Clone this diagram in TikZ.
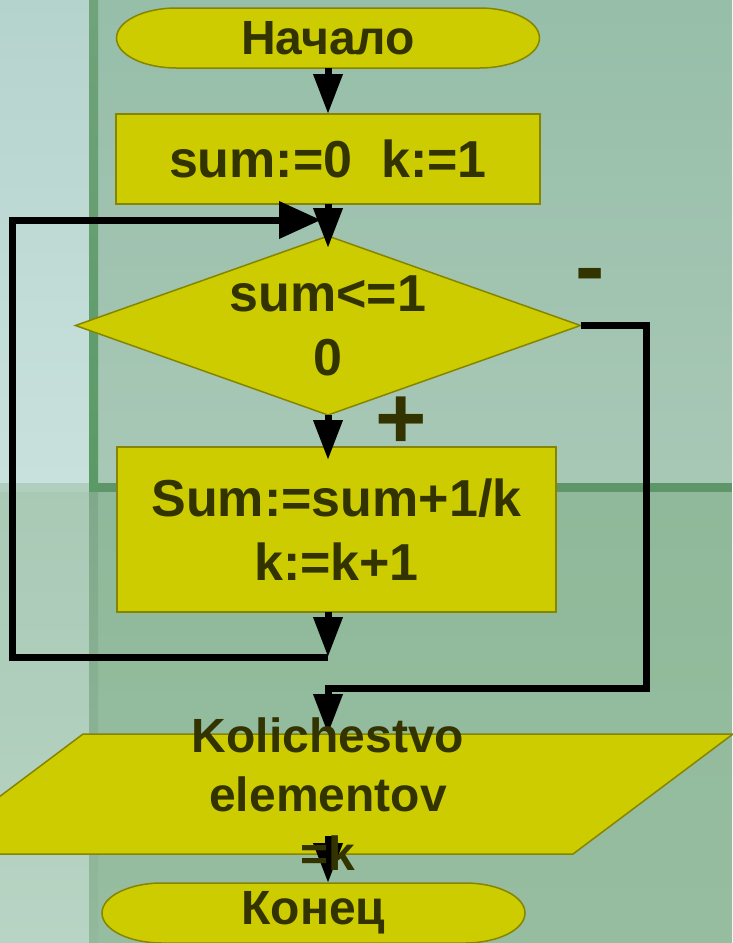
\documentclass[tikz,border=0pt]{standalone}
\usepackage{fontspec}
\setmainfont{Liberation Sans}
\usepackage{tikz}
\usetikzlibrary{positioning}
\usetikzlibrary{shapes.geometric}
\usetikzlibrary{arrows.meta}
\usetikzlibrary{backgrounds}

\definecolor{blockfill}{HTML}{CCCC00}
\definecolor{blockline}{HTML}{858500}
\definecolor{blocktext}{HTML}{333300}
% slide colours
\definecolor{lefttop}{RGB}{181,211,205}
\definecolor{leftmid}{RGB}{201,225,221}
\definecolor{leftlow}{RGB}{169,201,181}
\definecolor{leftbot}{RGB}{184,212,196}
\definecolor{leftband}{RGB}{176,207,191}
\definecolor{paneltop}{RGB}{150,190,169}
\definecolor{panelmid}{RGB}{168,200,182}
\definecolor{panellow}{RGB}{143,185,154}
\definecolor{panelbot}{RGB}{151,189,160}
\definecolor{stripetop}{RGB}{112,163,122}
\definecolor{stripemid}{RGB}{90,154,102}
\definecolor{stripelow}{RGB}{127,169,138}
\definecolor{stripebot}{RGB}{147,185,156}
\definecolor{bar}{RGB}{95,150,105}

\tikzset{
    block/.style={draw=blockline, fill=blockfill, line width=1.5pt, text=blocktext, inner sep=0pt, outer sep=0pt,
        align=center, font=\fontsize{52pt}{64pt}\selectfont\bfseries},
    process/.style={block, rectangle},
    decision/.style={block, diamond, aspect=2.8},
    terminal/.style={text=blocktext, inner sep=0pt, outer sep=0pt, minimum width=423pt, minimum height=60pt,
        font=\fontsize{48pt}{58pt}\selectfont\bfseries},
    datatext/.style={text=blocktext, inner sep=0pt, align=center, font=\fontsize{48pt}{59pt}\selectfont\bfseries},
    outline/.style={draw=blockline, fill=blockfill, line width=1.5pt},
    flow/.style={line width=7pt, -{Triangle[length=40pt,width=28pt]}},
    sign/.style={text=blocktext, inner sep=0pt, anchor=base, font=\fontsize{88pt}{88pt}\selectfont\bfseries}
}

\begin{document}
\begin{tikzpicture}[x=1pt, y=-1pt]
    \useasboundingbox (0,0) rectangle (732,943);

    % slide background
    \begin{scope}[on background layer]
        \fill[top color=lefttop, bottom color=leftmid] (0,0) rectangle (89,483);
        \fill[top color=leftlow, bottom color=leftbot] (0,483) rectangle (89,943);
        \fill[leftband] (0,483) rectangle (89,492);
        \fill[top color=paneltop, bottom color=panelmid] (98,0) rectangle (732,483);
        \fill[top color=panellow, bottom color=panelbot] (98,492) rectangle (732,943);
        \fill[top color=stripetop, bottom color=stripemid] (89,0) rectangle (98,492);
        \fill[top color=stripelow, bottom color=stripebot] (89,492) rectangle (98,943);
        \fill[bar] (98,483) rectangle (732,492);
    \end{scope}

    \node[terminal] (start) at (328,38) {Начало};
    \node[process, minimum width=424pt, minimum height=90pt, below=46pt of start] (init) {sum:=0\ \ k:=1};
    \node[decision, minimum width=505pt, minimum height=179pt, below=32pt of init] (cond) {sum<=1\\0};
    \node[process, minimum width=439pt, minimum height=165pt] (body) at (336.5,529.5) {Sum:=sum+1/k\\k:=k+1};
    \node[inner sep=0pt, outer sep=0pt, minimum width=650pt, minimum height=120pt] (out) at (328,794) {};
    \node[terminal] (stop) at (313.5,913) {Конец};

    % terminals and output block drawn under the texts
    \begin{scope}[on background layer]
        \foreach \t in {start,stop}
            \filldraw[outline] ([xshift=60pt]\t.north west) -- ([xshift=-60pt]\t.north east)
                arc[start angle=90, end angle=-90, x radius=60pt, y radius=30pt]
                -- ([xshift=60pt]\t.south west)
                arc[start angle=270, end angle=90, x radius=60pt, y radius=30pt] -- cycle;
        \filldraw[outline] ([xshift=80pt]out.north west) -- ([xshift=80pt]out.north east)
            -- ([xshift=-80pt]out.south east) -- ([xshift=-80pt]out.south west) -- cycle;
    \end{scope}

    \coordinate (join) at (328,657);
    \coordinate (loopbl) at (12,657);
    \coordinate (loopin) at (321,220);
    \coordinate (exitc) at (646,688);

    \draw[flow] (start) -- (init);
    \draw[flow] (init) -- ([yshift=-12pt]cond.north);
    \draw[flow] (cond.south) -- ([yshift=-13pt]cond.south |- body.north);
    \draw[flow] (body.south -| cond.south) -- (join);
    \draw[line width=7pt, -{Triangle[length=42pt,width=36pt]}] (join) -- (loopbl) |- (loopin);
    \draw[flow] (cond.east) -| (exitc) -| (out.north);
    \draw[flow] ([yshift=18pt]out.south) -- (out.south |- stop.north);

    \node[datatext] (outtext) at (out) {Kolichestvo\\elementov\\=k};
    \node[sign] (minus) at (590,296) {-};
    \node[sign] (plus) at (401,448) {+};
\end{tikzpicture}
\end{document}
